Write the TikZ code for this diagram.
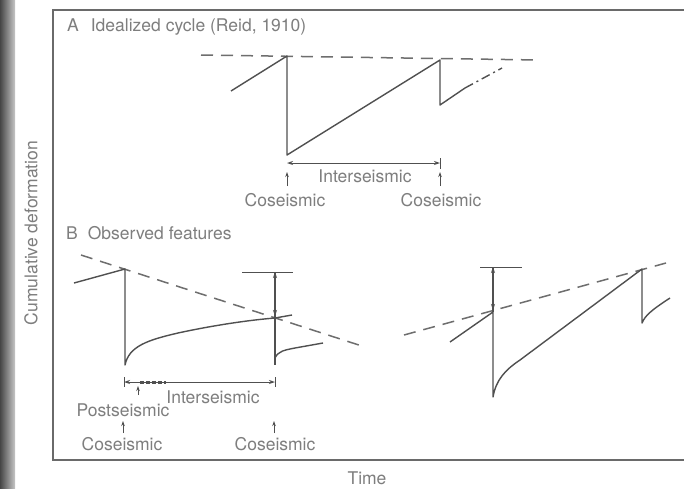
\documentclass[tikz,border=0pt]{standalone}
\usepackage{fontspec}
\setmainfont{TeX Gyre Heros}
\usetikzlibrary{arrows.meta}
\definecolor{lc}{HTML}{505050}
\definecolor{tc}{HTML}{7E7E7E}
\definecolor{fc}{HTML}{6A6A6A}
\definecolor{dc}{HTML}{6E6E6E}
\begin{document}
\begin{tikzpicture}[x=1pt,y=-1pt,
  curve/.style={draw=lc, line width=1.4pt, line join=round},
  dsh/.style={draw=dc, line width=1.5pt, dash pattern=on 12pt off 8pt},
  lbl/.style={text=tc, font=\fontsize{17.5}{20}\selectfont, inner sep=0pt},
  meas/.style={draw=lc, line width=1pt},
  dbl/.style={meas, {Stealth[length=6pt,width=4pt]}-{Stealth[length=6pt,width=4pt]}},
  uparr/.style={draw=lc, line width=0.9pt, -{Stealth[length=5pt,width=3.5pt]}}
]
\useasboundingbox (0,0) rectangle (684,488);
\fill[white] (0,0) rectangle (684,488);
% scanned page edge
\shade[left color=gray!55!black, right color=gray!45] (0,0) rectangle (15,488);
% frame
\draw[fc, line width=1.2pt] (684,10) -- (53,10) -- (53,460) -- (684,460);

% axis labels
\node[lbl, rotate=90] (ylab) at (31,233) {Cumulative deformation};
\node[lbl] (time) at (367,478) {Time};

% ---------- Panel A ----------
\node[lbl, anchor=west] (tA) at (67,27) {A\hspace{12pt}Idealized cycle (Reid, 1910)};
\coordinate (ad0) at (201,55);
\coordinate (ad1) at (539,60);
\draw[dsh] (ad0) -- (ad1);
\coordinate (a0) at (231,91);
\coordinate (a1) at (287,56);
\coordinate (a2) at (287,155);
\coordinate (a3) at (440,60);
\coordinate (a4) at (440,105);
\coordinate (a5) at (465,88);
\coordinate (a6) at (502,68);
\draw[curve] (a0) -- (a1) -- (a2) -- (a3) -- (a4) -- (a5);
\draw[curve, dash pattern=on 9pt off 4pt on 2pt off 4pt] (a5) -- (a6);

\coordinate (ai0) at (287,163);
\coordinate (ai1) at (440,163);
\draw[dbl] (ai0) -- (ai1);
\coordinate (ait0) at (440,158);
\coordinate (ait1) at (440,169);
\draw[meas] (ait0) -- (ait1);
\node[lbl] (interA) at (365,176) {Interseismic};
\node[lbl] (coA1) at (285,200) {Coseismic};
\node[lbl] (coA2) at (441,200) {Coseismic};
\coordinate (ua1s) at (287,186);
\coordinate (ua1e) at (287,172);
\coordinate (ua2s) at (440,186);
\coordinate (ua2e) at (440,172);
\draw[uparr] (ua1s) -- (ua1e);
\draw[uparr] (ua2s) -- (ua2e);

% ---------- Panel B ----------
\node[lbl, anchor=west] (tB) at (66,233) {B\hspace{10pt}Observed features};

% left part
\coordinate (bd0) at (81,255);
\coordinate (bd1) at (365,347);
\draw[dsh] (bd0) -- (bd1);
\coordinate (b0) at (74,283);
\coordinate (b1) at (125,269);
\coordinate (b2) at (125,365);
\coordinate (b3) at (275,318);
\coordinate (b3s) at (292,315);
\draw[curve] (b0) -- (b1) -- (b2)
  .. controls (129,346) and (148,340) .. (178,333)
  .. controls (215,325) and (250,320) .. (b3) -- (b3s);
\coordinate (bt0) at (242,272);
\coordinate (bt1) at (293,272);
\draw[meas] (bt0) -- (bt1);
\coordinate (bv0) at (275,272);
\coordinate (bv1) at (275,365);
\coordinate (bvm) at (275,316);
\draw[curve] (bv0) -- (bv1);
\draw[dbl] (bv0) -- (bvm);
\coordinate (b4) at (275,358);
\coordinate (b5) at (323,343);
\draw[curve] (b4) .. controls (278,351) and (285,350) .. (295,348) -- (b5);

% right part
\coordinate (cd0) at (404,335);
\coordinate (cd1) at (666,263);
\draw[dsh] (cd0) -- (cd1);
\coordinate (c0) at (450,342);
\coordinate (c1) at (493,312);
\coordinate (c2) at (493,397);
\coordinate (c3) at (642,269);
\coordinate (c4) at (642,323);
\coordinate (c5) at (670,298);
\draw[curve] (c0) -- (c1) -- (c2)
  .. controls (496,380) and (505,370) .. (520,360) -- (c3) -- (c4)
  .. controls (645,316) and (650,311) .. (c5);
\coordinate (ct0) at (480,267);
\coordinate (ct1) at (522,267);
\draw[meas] (ct0) -- (ct1);
\coordinate (cv0) at (493,267);
\coordinate (cvm) at (493,310);
\draw[curve] (cv0) -- (c1);
\draw[dbl] (cv0) -- (cvm);

% interval bar
\coordinate (bi0) at (124,382);
\coordinate (bi1) at (275,382);
\draw[dbl] (bi0) -- (bi1);
\coordinate (bit0) at (124,377);
\coordinate (bit1) at (124,387);
\draw[meas] (bit0) -- (bit1);
\coordinate (bit2) at (275,377);
\coordinate (bit3) at (275,387);
\draw[meas] (bit2) -- (bit3);
\coordinate (bp0) at (140,382);
\coordinate (bp1) at (166,382);
\draw[lc, line width=3pt, dash pattern=on 3.5pt off 2.5pt] (bp0) -- (bp1);

\node[lbl] (interB) at (213,397) {Interseismic};
\node[lbl] (postB) at (123,410) {Postseismic};
\node[lbl] (coB1) at (122,444) {Coseismic};
\node[lbl] (coB2) at (275,444) {Coseismic};
\coordinate (up0s) at (138,395);
\coordinate (up0e) at (138,386);
\draw[uparr] (up0s) -- (up0e);
\coordinate (up1s) at (123,433);
\coordinate (up1e) at (123,421);
\draw[uparr] (up1s) -- (up1e);
\coordinate (up2s) at (274,433);
\coordinate (up2e) at (274,421);
\draw[uparr] (up2s) -- (up2e);
\end{tikzpicture}
\end{document}
